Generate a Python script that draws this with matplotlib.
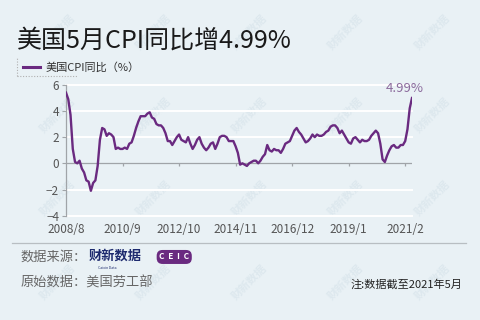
import numpy as np
import matplotlib
matplotlib.use("Agg")
import matplotlib.pyplot as plt

plt.rcParams['font.family'] = ['Noto Sans CJK SC', 'DejaVu Sans']

# US CPI year-on-year (%), monthly from 2008/8 to 2021/5
cpi = [
    5.4, 4.9, 3.7, 1.1, 0.1,
    0.0, 0.2, -0.4, -0.7, -1.3, -1.4, -2.1, -1.5, -1.3, -0.2, 1.8, 2.7,
    2.6, 2.1, 2.3, 2.2, 2.0, 1.1, 1.2, 1.1, 1.1, 1.2, 1.1, 1.5,
    1.6, 2.1, 2.7, 3.2, 3.6, 3.6, 3.6, 3.8, 3.9, 3.5, 3.4, 3.0,
    2.9, 2.9, 2.7, 2.3, 1.7, 1.7, 1.4, 1.7, 2.0, 2.2, 1.8, 1.7,
    1.6, 2.0, 1.5, 1.1, 1.4, 1.8, 2.0, 1.5, 1.2, 1.0, 1.2, 1.5,
    1.6, 1.1, 1.5, 2.0, 2.1, 2.1, 2.0, 1.7, 1.7, 1.7, 1.3, 0.8,
    -0.1, 0.0, -0.1, -0.2, 0.0, 0.1, 0.2, 0.2, 0.0, 0.2, 0.5, 0.7,
    1.4, 1.0, 0.9, 1.1, 1.0, 1.0, 0.8, 1.1, 1.5, 1.6, 1.7, 2.1,
    2.5, 2.7, 2.4, 2.2, 1.9, 1.6, 1.7, 1.9, 2.2, 2.0, 2.2, 2.1,
    2.1, 2.2, 2.4, 2.5, 2.8, 2.9, 2.9, 2.7, 2.3, 2.5, 2.2, 1.9,
    1.6, 1.5, 1.9, 2.0, 1.8, 1.6, 1.8, 1.7, 1.7, 1.8, 2.1, 2.3,
    2.5, 2.3, 1.5, 0.3, 0.1, 0.6, 1.0, 1.3, 1.4, 1.2, 1.2, 1.4,
    1.4, 1.7, 2.6, 4.2, 4.99,
]
tick_labels = ["2008/8", "2010/9", "2012/10", "2014/11", "2016/12", "2019/1", "2021/2"]
yticks = [-4, -2, 0, 2, 4, 6]

bg = "#e9f1f5"
purple = "#6a2a80"
grey = "#555555"

x = np.arange(len(cpi))
tick_pos = np.arange(len(tick_labels)) * 25

fig = plt.figure(figsize=(4.8, 3.2), dpi=100, facecolor=bg)

# faint watermarks, kept behind everything
wm = fig.add_axes([0, 0, 1, 1], zorder=-5)
wm.set_axis_off()
wm.set_xlim(0, 1)
wm.set_ylim(0, 1)
for wx in [0.12, 0.32, 0.52, 0.72, 0.9]:
    for wy in [0.12, 0.38, 0.64, 0.9]:
        wm.text(wx, wy, "财新数据", fontsize=8, color="#dde8ee", rotation=45,
                ha="center", va="center", fontweight="bold")

ax = fig.add_axes([0.1375, 0.326, 0.7208, 0.409])
ax.set_facecolor("none")
ax.set_xlim(0, len(cpi) - 1)
ax.set_ylim(-4, 6)

for yv in yticks:
    if yv != 0:
        ax.axhline(yv, color="white", lw=1.4, zorder=1, clip_on=False)
ax.axhline(0, color="#a0a4a8", lw=0.9, zorder=1)
ax.vlines(tick_pos[1:], -0.18, 0, color="#a0a4a8", lw=0.9, zorder=1)

ax.plot(x, cpi, color=purple, lw=1.7, zorder=3, solid_joinstyle="round")
ax.text(x[-1] - 3, cpi[-1] + 0.25, "4.99%", color="#8b6a9c", fontsize=9.5,
        ha="center", va="bottom")

for s in ["top", "right", "bottom"]:
    ax.spines[s].set_visible(False)
ax.spines["left"].set_color("#a0a4a8")
ax.spines["left"].set_linewidth(0.9)

ax.set_yticks(yticks)
ax.set_yticklabels([str(v) if v >= 0 else "\u2212" + str(-v) for v in yticks])
ax.tick_params(axis="y", length=3, color="#a0a4a8", labelsize=8.5, labelcolor=grey, pad=2)
ax.set_xticks(tick_pos)
ax.set_xticklabels(tick_labels)
ax.tick_params(axis="x", length=0, labelsize=8.5, labelcolor=grey, pad=5)

# title and legend
fig.text(0.035, 0.872, "美国5月CPI同比增4.99%", fontsize=18, color="#1a1a1a",
         va="center", ha="left")
fig.add_artist(plt.Line2D([0.036, 0.036], [0.762, 0.818], color="#b0b0b0", lw=0.8,
                          ls=(0, (1, 1.5)), transform=fig.transFigure))
fig.add_artist(plt.Line2D([0.036, 0.16], [0.762, 0.762], color="#b0b0b0", lw=0.8,
                          ls=(0, (1, 1.5)), transform=fig.transFigure))
fig.add_artist(plt.Line2D([0.047, 0.083], [0.79, 0.79], color=purple, lw=2.2,
                          transform=fig.transFigure))
fig.text(0.094, 0.79, "美国CPI同比（%）", fontsize=8, color="#333333", va="center")

# footer
fig.add_artist(plt.Line2D([0.025, 0.97], [0.241, 0.241], color="#b8bec2", lw=0.9,
                          transform=fig.transFigure))
fig.text(0.043, 0.195, "数据来源：", fontsize=9.5, color="#666666", va="center")
fig.text(0.185, 0.2, "财新数据", fontsize=9.5, color="#1d2a6e", va="center",
         fontweight="bold")
fig.text(0.205, 0.163, "Caixin Data", fontsize=2.5, color="#1d2a6e", va="center")
fig.text(0.363, 0.197, "C  E  I  C", fontsize=6, color="white", va="center", ha="center",
         fontweight="bold",
         bbox=dict(boxstyle="round,pad=0.3,rounding_size=0.7", fc="#6a2a80", ec="none"))
fig.text(0.043, 0.115, "原始数据：美国劳工部", fontsize=9.5, color="#666666", va="center")
fig.text(0.963, 0.112, "注:数据截至2021年5月", fontsize=8, color="#222222",
         va="center", ha="right")

fig.savefig("out.png", dpi=100, facecolor=bg)
